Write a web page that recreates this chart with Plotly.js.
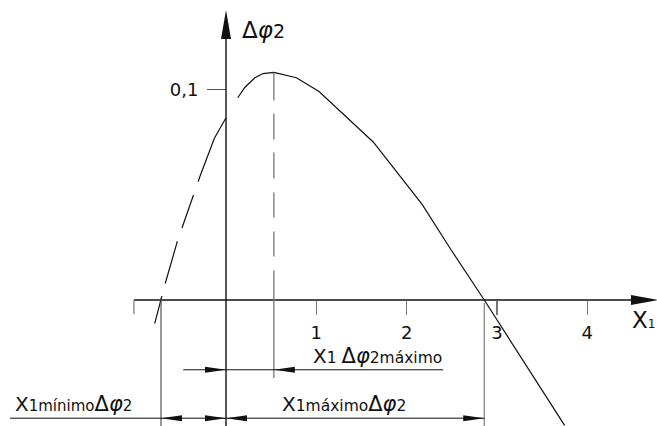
<!DOCTYPE html>
<html>
<head>
<meta charset="utf-8">
<script src="https://cdn.plot.ly/plotly-3.0.1.min.js"></script>
<style>
  html, body { margin: 0; padding: 0; background: #fff; }
  #chart { width: 657px; height: 426px; }
</style>
</head>
<body>
<div id="chart"></div>
<script>
// Δφ2 as a function of x1: solid branch (measured) and dashed extrapolated branch
const x1Curve   = [0.13, 0.21, 0.32, 0.41, 0.53, 0.78, 1.03, 1.63, 2.17, 2.49, 2.86, 3.75];
const dphiCurve = [0.096, 0.101, 0.1055, 0.1075, 0.108, 0.1055, 0.099, 0.075, 0.0455, 0.024, 0, -0.0595];
const x1Branch   = [0, -0.13, -0.29, -0.36, -0.49, -0.54, -0.68, -0.72, -0.79];
const dphiBranch = [0.0865, 0.0767, 0.0585, 0.0498, 0.034, 0.0277, 0.0068, 0, -0.0112];

// axis ticks
const xTickVals = [1, 2, 3, 4];
const xTickText = ['1', '2', '3', '4'];
const yTickVals = [0.1];
const yTickText = ['0,1'];

// visible window
const xRange = [-2.503, 4.773];
const yRange = [-0.0598, 0.1424];

// characteristic points taken from the series
const iPeak = dphiCurve.indexOf(Math.max(...dphiCurve));
const x1Peak = x1Curve[iPeak], dphiPeak = dphiCurve[iPeak];
const x1MaxZero = x1Curve[dphiCurve.indexOf(0)];
const x1MinZero = x1Branch[dphiBranch.indexOf(0)];

const FONT = 'DejaVu Sans, Verdana, sans-serif';
const INK = '#111';

// dimension line levels and extents
const yDimUpper = -0.0331, yDimLower = -0.0561, yBottom = yRange[0];
const xDimUpperStart = -0.473, xDimUpperEnd = 2.403, xDimLowerStart = -2.392;

function arrowHead(x, y, dir, len, half) {
  let p;
  if (dir === 'right') p = `M0,0 L${-len},${half} L${-len},${-half} Z`;
  else if (dir === 'left') p = `M0,0 L${len},${half} L${len},${-half} Z`;
  else p = `M0,0 L${half},${-len} L${-half},${-len} Z`;
  return {
    type: 'path', xref: 'x', yref: 'y', xsizemode: 'pixel', ysizemode: 'pixel',
    xanchor: x, yanchor: y, path: p, fillcolor: INK, line: { width: 0 }
  };
}
function seg(x0, y0, x1, y1, color, width, dash) {
  return { type: 'line', xref: 'x', yref: 'y', x0, y0, x1, y1,
           line: { color, width, dash: dash || 'solid' } };
}

const yArrowTip = 0.1376, xArrowTip = 4.795, xAxisStart = -1.02;

const shapes = [
  // axes
  seg(0, yBottom, 0, yArrowTip - 0.013, INK, 1.4),
  seg(xAxisStart, 0, xArrowTip - 0.25, 0, INK, 1.4),
  seg(xAxisStart, 0, xAxisStart, -0.0066, '#777', 1.2),
  arrowHead(0, yArrowTip, 'up', 29, 5),
  arrowHead(xArrowTip, 0, 'right', 28, 5),
  // peak marker
  seg(x1Peak, dphiPeak, x1Peak, -0.037, '#777', 1.3,
      '28px,13px,26px,13px,26px,14px,25px,14px,25px,14px,110px'),
  // extension lines
  seg(x1MinZero, 0.001, x1MinZero, yBottom, '#444', 1.1),
  seg(x1MaxZero, -0.0014, x1MaxZero, yBottom, '#888', 1.3),
  // upper dimension
  seg(xDimUpperStart, yDimUpper, xDimUpperEnd, yDimUpper, INK, 1),
  arrowHead(0, yDimUpper, 'right', 21, 3),
  arrowHead(x1Peak, yDimUpper, 'left', 21, 3),
  // lower dimension
  seg(xDimLowerStart, yDimLower, x1MaxZero, yDimLower, INK, 1),
  arrowHead(x1MinZero, yDimLower, 'left', 21, 3),
  arrowHead(0, yDimLower, 'right', 21, 3),
  arrowHead(0, yDimLower, 'left', 21, 3),
  arrowHead(x1MaxZero, yDimLower, 'right', 21, 3)
];

const big = s => `<span style="font-size:20px">${s}</span>`;
const dphi = `<span style="font-size:21px">Δ<i>φ</i></span>`;

const annotations = [
  { x: 0.155, y: 0.1281, xref: 'x', yref: 'y', xanchor: 'left', yanchor: 'middle',
    text: `<span style="font-size:23px">Δ<i>φ</i></span><span style="font-size:19px">2</span>`,
    showarrow: false, font: { family: FONT, size: 19, color: INK } },
  { x: xRange[1], y: -0.0095, xref: 'x', yref: 'y', xanchor: 'right', yanchor: 'middle',
    text: `<span style="font-size:23px">X</span>1`,
    showarrow: false, font: { family: FONT, size: 12, color: INK } },
  { x: 0.941, y: yDimUpper, xref: 'x', yref: 'y', xanchor: 'left', yanchor: 'bottom',
    text: `${big('X')}1 ${dphi}2máximo`,
    showarrow: false, font: { family: FONT, size: 15.5, color: INK } },
  { x: xDimLowerStart + 0.035, y: yDimLower, xref: 'x', yref: 'y', xanchor: 'left', yanchor: 'bottom',
    text: `${big('X')}1mínimo${dphi}2`,
    showarrow: false, font: { family: FONT, size: 15, color: INK } },
  { x: 0.598, y: yDimLower, xref: 'x', yref: 'y', xanchor: 'left', yanchor: 'bottom',
    text: `${big('X')}1máximo${dphi}2`,
    showarrow: false, font: { family: FONT, size: 15.5, color: INK } }
];

const traces = [
  { x: x1Curve, y: dphiCurve, type: 'scatter', mode: 'lines',
    line: { color: INK, width: 1.2 }, hoverinfo: 'skip' },
  { x: x1Branch, y: dphiBranch, type: 'scatter', mode: 'lines',
    line: { color: INK, width: 1.2, dash: '70px,14px,35px,14px,44px,13px,40px' },
    hoverinfo: 'skip' }
];

const layout = {
  width: 657, height: 426,
  margin: { l: 0, r: 0, t: 0, b: 0 },
  paper_bgcolor: '#fff', plot_bgcolor: '#fff',
  showlegend: false,
  xaxis: {
    range: xRange, domain: [0, 1], anchor: 'free',
    position: (0 - yRange[0]) / (yRange[1] - yRange[0]),
    showgrid: false, zeroline: false, showline: false,
    tickmode: 'array', tickvals: xTickVals, ticktext: xTickText,
    ticks: 'outside', ticklen: 14, tickwidth: 1.2, tickcolor: '#777',
    ticklabelstandoff: 2,
    tickfont: { family: FONT, size: 18, color: INK }
  },
  yaxis: {
    range: yRange, domain: [0, 1], anchor: 'free',
    position: (0 - xRange[0]) / (xRange[1] - xRange[0]),
    showgrid: false, zeroline: false, showline: false,
    tickmode: 'array', tickvals: yTickVals, ticktext: yTickText,
    ticks: 'outside', ticklen: 19, tickwidth: 1.2, tickcolor: '#555',
    ticklabelstandoff: 5,
    tickfont: { family: FONT, size: 18, color: INK }
  },
  shapes, annotations
};

Plotly.newPlot('chart', traces, layout, { staticPlot: true, displayModeBar: false });
</script>
</body>
</html>
